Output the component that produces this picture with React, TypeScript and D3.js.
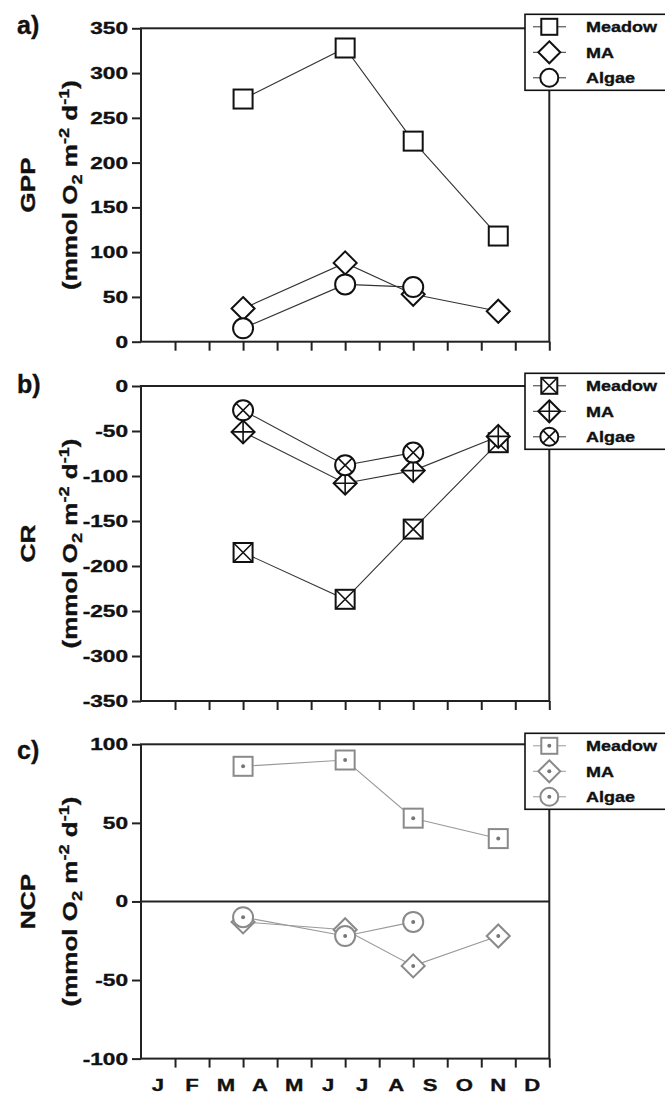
import React, { useEffect, useRef } from 'react';
import * as d3 from 'd3';

// sampling months: 0 = start of Jan, 12 = end of Dec
const months = ['J', 'F', 'M', 'A', 'M', 'J', 'J', 'A', 'S', 'O', 'N', 'D'];
const sampleMonths = [3, 6, 8, 10.5];
const seriesNames = ['Meadow', 'MA', 'Algae'];

const gppMeadow = [271, 328, 224, 118];
const gppMA = [37, 88, 53, 34];
const gppAlgae = [15, 64, 61, null];

const crMeadow = [-185, -237, -159, -63];
const crMA = [-51, -108, -94, -56];
const crAlgae = [-27, -88, -74, null];

const ncpMeadow = [86, 90, 53, 40];
const ncpMA = [-13, -18, -41, -22];
const ncpAlgae = [-10, -22, -13, null];

const gppTicks = [0, 50, 100, 150, 200, 250, 300, 350];
const crTicks = [0, -50, -100, -150, -200, -250, -300, -350];
const ncpTicks = [100, 50, 0, -50, -100];

const W = 665;
const H = 1095;
const left = 141;
const right = 549.3;
const font = '"Liberation Sans", Arial, Helvetica, sans-serif';
const shapes = ['square', 'diamond', 'circle'];

const panels = [
  { tag: 'a)', name: 'GPP', top: 28.3, bottom: 341.7, domain: [0, 350], ticks: gppTicks,
    data: [gppMeadow, gppMA, gppAlgae], fill: 'plain', color: '#111', lineColor: '#333',
    zero: false, labels: false, tagY: 34, legendTop: 14.3 },
  { tag: 'b)', name: 'CR', top: 386, bottom: 701, domain: [-350, 0], ticks: crTicks,
    data: [crMeadow, crMA, crAlgae], fill: 'cross', color: '#111', lineColor: '#333',
    zero: false, labels: false, tagY: 393, legendTop: 373.3 },
  { tag: 'c)', name: 'NCP', top: 744.3, bottom: 1058.6, domain: [-100, 100], ticks: ncpTicks,
    data: [ncpMeadow, ncpMA, ncpAlgae], fill: 'dot', color: '#8a8a8a', lineColor: '#999',
    zero: true, labels: true, tagY: 759, legendTop: 733.3 },
];

function marker(g, shape, fill, cx, cy, s, color) {
  const m = g.append('g').attr('transform', `translate(${cx},${cy})`)
    .attr('fill', '#fff').attr('stroke', color).attr('stroke-width', 2);
  let c = 0; // half-length of inner cross
  if (shape === 'square') {
    m.append('rect').attr('x', -s.sq / 2).attr('y', -s.sq / 2)
      .attr('width', s.sq).attr('height', s.sq);
    if (fill === 'cross') {
      c = s.sq / 2;
      m.append('path').attr('d', `M${-c},${-c}L${c},${c}M${c},${-c}L${-c},${c}`).attr('stroke-width', 1.6);
    }
  } else if (shape === 'diamond') {
    const h = s.dm;
    m.append('path').attr('d', `M0,${-h}L${h},0L0,${h}L${-h},0Z`);
    if (fill === 'cross') {
      m.append('path').attr('d', `M0,${-h}V${h}M${-h},0H${h}`).attr('stroke-width', 1.6);
    }
  } else {
    m.append('circle').attr('r', s.r);
    if (fill === 'cross') {
      c = s.r * 0.707;
      m.append('path').attr('d', `M${-c},${-c}L${c},${c}M${c},${-c}L${-c},${c}`).attr('stroke-width', 1.6);
    }
  }
  if (fill === 'dot') {
    m.append('circle').attr('r', 2).attr('fill', '#777').attr('stroke', 'none');
  }
}

// bold text with a faint outline so it reads as heavy as the scan
function label(g, tf, size, anchor, txt) {
  return g.append('text')
    .attr('transform', tf)
    .attr('text-anchor', anchor)
    .attr('font-family', font).attr('font-weight', 'bold').attr('font-size', size)
    .attr('fill', '#111').attr('stroke', '#111').attr('stroke-width', 0.35)
    .text(txt);
}

function App() {
  const ref = useRef(null);

  useEffect(() => {
    const svg = d3.select(ref.current);
    svg.selectAll('*').remove();

    const x = d3.scaleLinear().domain([0, 12]).range([left, right]);

    panels.forEach(p => {
      const y = d3.scaleLinear().domain(p.domain).range([p.bottom, p.top]);
      const g = svg.append('g');
      const axisColor = '#222';

      // frame
      g.append('rect')
        .attr('x', left).attr('y', p.top)
        .attr('width', right - left).attr('height', p.bottom - p.top)
        .attr('fill', 'none').attr('stroke', axisColor).attr('stroke-width', 2);

      if (p.zero) {
        g.append('line')
          .attr('x1', left).attr('x2', right)
          .attr('y1', y(0)).attr('y2', y(0))
          .attr('stroke', axisColor).attr('stroke-width', 2);
      }

      // y axis
      const yAxis = d3.axisLeft(y).tickValues(p.ticks).tickSize(9).tickPadding(0).tickFormat(() => '');
      const ya = g.append('g').attr('transform', `translate(${left},0)`).call(yAxis);
      ya.select('.domain').remove();
      ya.selectAll('line').attr('stroke', axisColor).attr('stroke-width', 2);

      p.ticks.forEach(t => {
        label(g, `translate(128,${y(t) + 6}) scale(1.35,1)`, 16.8, 'end', t);
      });

      // x axis ticks
      const xAxis = d3.axisBottom(x).tickValues(d3.range(1, 13)).tickSize(9).tickFormat(() => '');
      const xa = g.append('g').attr('transform', `translate(0,${p.bottom})`).call(xAxis);
      xa.select('.domain').remove();
      xa.selectAll('line').attr('stroke', axisColor).attr('stroke-width', 2);

      if (p.labels) {
        months.forEach((m, i) => {
          label(g, `translate(${x(i + 0.5)},${p.bottom + 32.5}) scale(1.3,1)`, 17, 'middle', m);
        });
      }

      // panel tag
      label(g, `translate(17,${p.tagY})`, 25, 'start', p.tag);

      // y titles
      const cy = (p.top + p.bottom) / 2;
      label(g, `translate(35,${cy}) rotate(-90) scale(1.25,1)`, 21, 'middle', p.name);
      const unit = label(g, `translate(77,${cy}) rotate(-90) scale(1.3,1)`, 20, 'middle', null);
      unit.append('tspan').text('(mmol O');
      unit.append('tspan').attr('dy', 5).attr('font-size', 14).text('2');
      unit.append('tspan').attr('dy', -5).text(' m');
      unit.append('tspan').attr('dy', -8).attr('font-size', 14).text('-2');
      unit.append('tspan').attr('dy', 8).text(' d');
      unit.append('tspan').attr('dy', -8).attr('font-size', 14).text('-1');
      unit.append('tspan').attr('dy', 8).text(')');

      // lines
      const line = d3.line<any>()
        .defined(d => d.v !== null)
        .x(d => x(d.m))
        .y(d => y(d.v));
      p.data.forEach(vals => {
        const pts = vals.map((v, i) => ({ m: sampleMonths[i], v }));
        g.append('path')
          .attr('d', line(pts))
          .attr('fill', 'none')
          .attr('stroke', p.lineColor)
          .attr('stroke-width', 1.1);
      });

      // markers
      const size = { sq: 19, dm: 11.5, r: 10 };
      p.data.forEach((vals, k) => {
        vals.forEach((v, i) => {
          if (v === null) return;
          marker(g, shapes[k], p.fill, x(sampleMonths[i]), y(v), size, p.color);
        });
      });

      // legend
      const lt = p.legendTop;
      const lg = g.append('g');
      lg.append('rect')
        .attr('x', 525).attr('y', lt)
        .attr('width', 150).attr('height', 76)
        .attr('fill', '#fff').attr('stroke', '#111').attr('stroke-width', 1.6);
      const lsize = { sq: 16, dm: 11, r: 9 };
      seriesNames.forEach((n, k) => {
        const ry = lt + 12.5 + k * 25.5;
        lg.append('line')
          .attr('x1', 533).attr('x2', 566).attr('y1', ry).attr('y2', ry)
          .attr('stroke', p.lineColor).attr('stroke-width', 1);
        marker(lg, shapes[k], p.fill, right, ry, lsize, p.color);
        label(lg, `translate(586,${ry + 5.5}) scale(1.2,1)`, 15, 'start', n);
      });
    });
  }, []);

  return (
    <svg ref={ref} width={W} height={H}
      style={{ position: 'absolute', left: 0, top: 0, background: '#fff' }} />
  );
}

export default App;
